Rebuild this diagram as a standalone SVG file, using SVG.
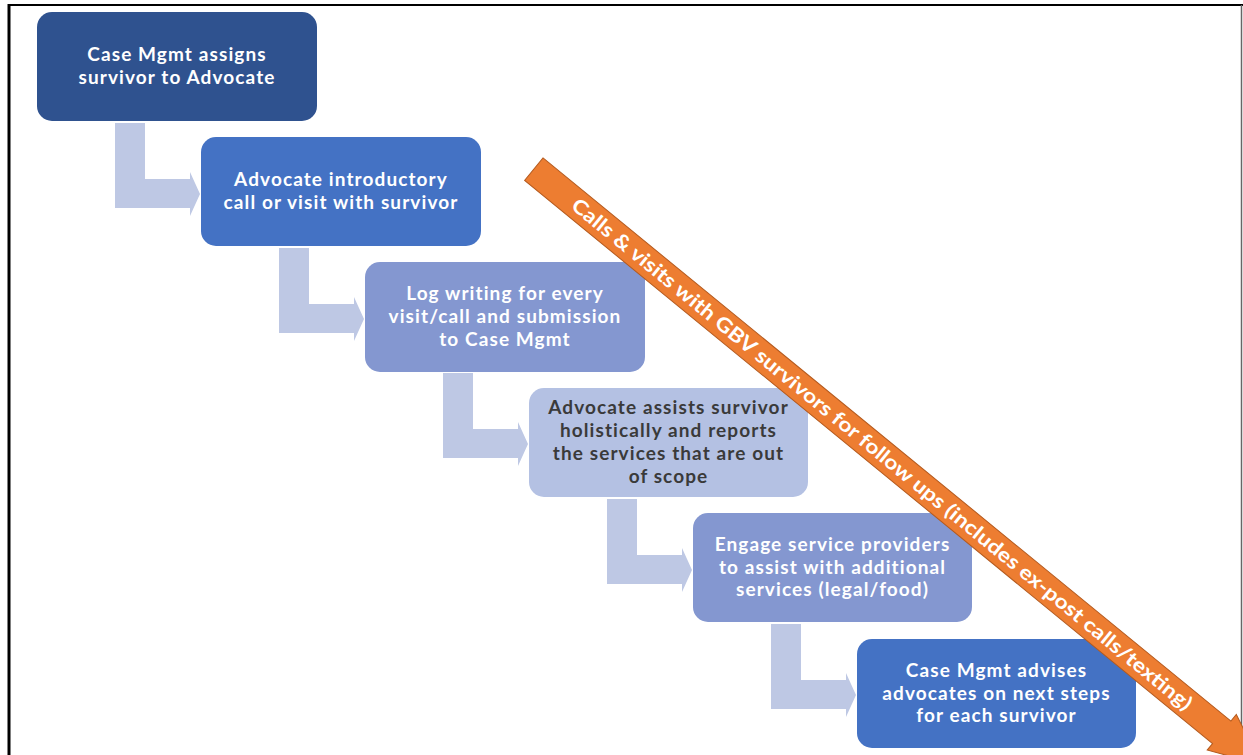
<svg xmlns="http://www.w3.org/2000/svg" width="1243" height="755" viewBox="0 0 1243 755">
<style>
.box{stroke:none}
.t{font-family:Lato,"Open Sans","Liberation Sans",sans-serif;font-weight:bold;font-size:19px;text-anchor:middle;fill:#ffffff;letter-spacing:1.1px}
.dark{fill:#3a3a3a}
.lbl{letter-spacing:0;font-size:20px}
.conn{fill:#bec8e4}
</style>
<rect width="1243" height="755" fill="#ffffff"/>
<g id="frame">
<line x1="8" y1="5" x2="1243" y2="5" stroke="#000" stroke-width="2"/>
<line x1="9" y1="4" x2="9" y2="755" stroke="#000" stroke-width="3"/>
<line x1="1241.5" y1="5" x2="1241.5" y2="755" stroke="#666" stroke-width="1.5"/>
</g>
<g id="connectors">
<polygon class="conn" transform="translate(37,12)" points="78,111 108,111 108,167 153,167 153,160 163,182 153,204 153,196 78,196"/>
<polygon class="conn" transform="translate(201,137)" points="78,111 108,111 108,167 153,167 153,160 163,182 153,204 153,196 78,196"/>
<polygon class="conn" transform="translate(365,262)" points="78,111 108,111 108,167 153,167 153,160 163,182 153,204 153,196 78,196"/>
<polygon class="conn" transform="translate(529,388)" points="78,111 108,111 108,167 153,167 153,160 163,182 153,204 153,196 78,196"/>
<polygon class="conn" transform="translate(693,513)" points="78,111 108,111 108,167 153,167 153,160 163,182 153,204 153,196 78,196"/>
</g>
<g id="n1">
<rect class="box" x="37" y="12" width="280" height="109" rx="15" fill="#2f528f"/>
<text class="t" x="177" y="61.1">Case Mgmt assigns</text>
<text class="t" x="177" y="83.9">survivor to Advocate</text>
</g>
<g id="n2">
<rect class="box" x="201" y="137" width="280" height="109" rx="15" fill="#4472c4"/>
<text class="t" x="341" y="186.1">Advocate introductory</text>
<text class="t" x="341" y="208.9">call or visit with survivor</text>
</g>
<g id="n3">
<rect class="box" x="365" y="262" width="280" height="110" rx="15" fill="#8497d0"/>
<text class="t" x="505" y="300.2">Log writing for every</text>
<text class="t" x="505" y="323">visit/call and submission</text>
<text class="t" x="505" y="345.8">to Case Mgmt</text>
</g>
<g id="n4">
<rect class="box" x="529" y="388" width="279" height="109" rx="15" fill="#b4c1e3"/>
<text class="t dark" x="668.5" y="414.3">Advocate assists survivor</text>
<text class="t dark" x="668.5" y="437.1">holistically and reports</text>
<text class="t dark" x="668.5" y="459.9">the services that are out</text>
<text class="t dark" x="668.5" y="482.7">of scope</text>
</g>
<g id="n5">
<rect class="box" x="693" y="513" width="279" height="109" rx="15" fill="#8497d0"/>
<text class="t" x="832.5" y="550.7">Engage service providers</text>
<text class="t" x="832.5" y="573.5">to assist with additional</text>
<text class="t" x="832.5" y="596.3">services (legal/food)</text>
</g>
<g id="n6">
<rect class="box" x="857" y="639" width="279" height="109" rx="15" fill="#4472c4"/>
<text class="t" x="996.5" y="676.7">Case Mgmt advises</text>
<text class="t" x="996.5" y="699.5">advocates on next steps</text>
<text class="t" x="996.5" y="722.3">for each survivor</text>
</g>
<g id="timeline" transform="translate(533.8,169.2) rotate(39.3)">
<polygon points="0,-14.5 889,-14.5 889,-23 940,0 889,23 889,14.5 0,14.5" fill="#ed7d31" stroke="#b45a1e" stroke-width="1"/>
<text class="t lbl" x="450" y="7" textLength="795" lengthAdjust="spacingAndGlyphs">Calls &amp; visits with GBV survivors for follow ups (includes ex-post calls/texting)</text>
</g>
</svg>
